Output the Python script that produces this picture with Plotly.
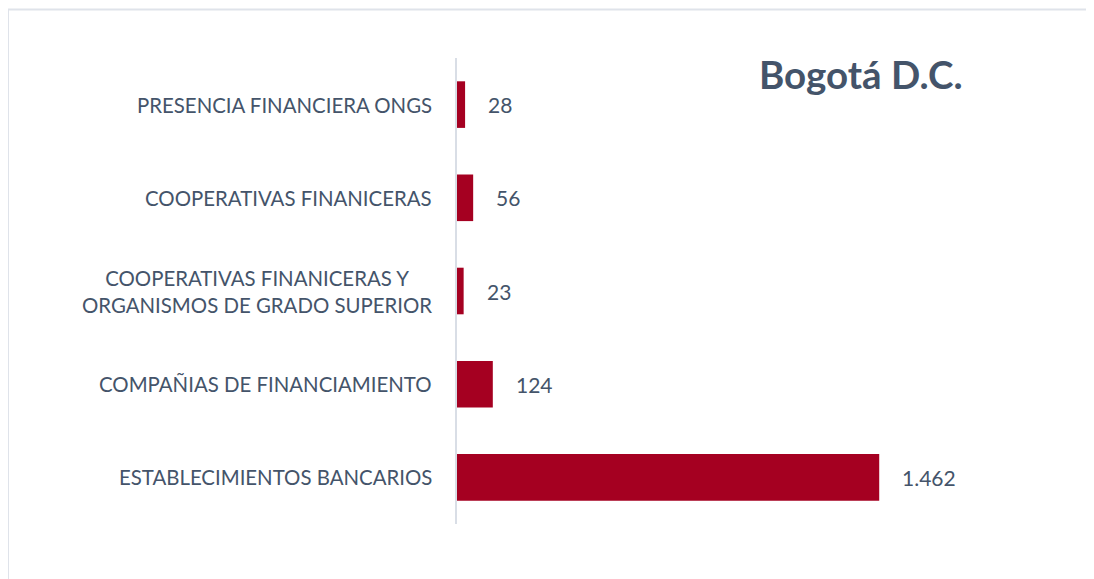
import plotly.graph_objects as go

categories = [
    "PRESENCIA FINANCIERA ONGS",
    "COOPERATIVAS FINANICERAS",
    "COOPERATIVAS FINANICERAS Y<br>ORGANISMOS DE GRADO SUPERIOR",
    "COMPAÑIAS DE FINANCIAMIENTO",
    "ESTABLECIMIENTOS BANCARIOS",
]
values = [28, 56, 23, 124, 1462]
value_labels = ["28", "56", "23", "124", "1.462"]
title_text = "Bogotá D.C."

TEXT = "#44546A"
BAR = "#A50021"
FONT = "Lato, Open Sans, sans-serif"

W, H = 1086, 571
ml, mr, mt, mb = 449, 34, 50, 55
pw = W - ml - mr
ph = H - mt - mb

fig = go.Figure(go.Bar(
    x=values, y=categories, orientation="h",
    marker=dict(color=BAR, line=dict(width=0)),
    width=0.5, hoverinfo="skip",
))

for c, v, t in zip(categories, values, value_labels):
    fig.add_annotation(x=v, y=c, xref="x", yref="y", text=t, showarrow=False,
                       xanchor="left", xshift=21,
                       font=dict(family=FONT, size=21, color=TEXT))
    fig.add_annotation(x=0, y=c, xref="paper", yref="y", text=c, showarrow=False,
                       xanchor="right", xshift=-23, align="center",
                       font=dict(family=FONT, size=20.4, color=TEXT))

fx = lambda px: (px - ml) / pw
fy = lambda py: (H - mb - py) / ph

fig.add_annotation(x=fx(853), y=fy(66), xref="paper", yref="paper",
                   text="<b>" + title_text + "</b>", showarrow=False,
                   xanchor="center", yanchor="middle",
                   font=dict(family=FONT, size=38.5, color=TEXT))

# frame lines (top and left)
fig.add_shape(type="line", xref="paper", yref="paper",
              x0=fx(0), x1=fx(W + 5), y0=fy(1.5), y1=fy(1.5),
              line=dict(color="#DFE3EA", width=2))
fig.add_shape(type="line", xref="paper", yref="paper",
              x0=fx(0), x1=fx(0), y0=fy(1.5), y1=fy(H + 5),
              line=dict(color="#DFE3EA", width=2))

fig.update_layout(
    width=W, height=H,
    margin=dict(l=ml, r=mr, t=mt, b=mb),
    paper_bgcolor="white", plot_bgcolor="white",
    showlegend=False,
    xaxis=dict(range=[0, 2088], visible=False, fixedrange=True),
    yaxis=dict(autorange="reversed", showticklabels=False, ticks="",
               showgrid=False, zeroline=False,
               showline=True, linecolor="#D9DEE6", linewidth=2),
)

fig.write_html("out.html")
